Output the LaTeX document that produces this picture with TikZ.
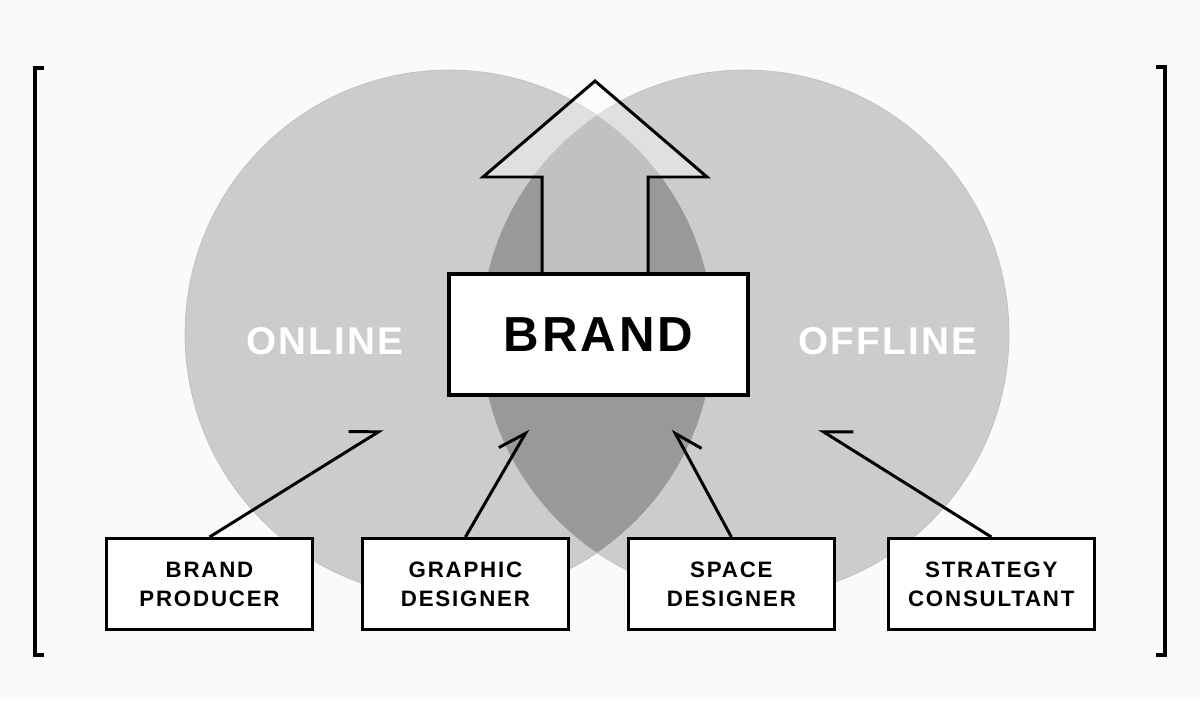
\documentclass[tikz,border=0pt]{standalone}
\usepackage{fontspec}
\setmainfont{Liberation Sans}
\newfontfamily\bigtrack[LetterSpace=6]{Liberation Sans}
\newfontfamily\smalltrack[LetterSpace=8]{Liberation Sans}
\usetikzlibrary{arrows.meta,positioning,calc}
\tikzset{
  venn/.style={fill=black!20, draw=black!25, line width=0.4pt},
  lens/.style={fill=black!40},
  field/.style={text=white, inner sep=0pt, font=\fontsize{22}{24}\selectfont\bigtrack\bfseries},
  brandbox/.style={draw, line width=2.3pt, fill=white, minimum width=5.98cm, minimum height=2.42cm, inner sep=0pt, font=\fontsize{28}{30}\selectfont\bigtrack\bfseries},
  role/.style={draw, line width=1.7pt, fill=white, minimum width=4.12cm, minimum height=1.82cm, inner sep=0pt, align=center, font=\fontsize{12.7}{16.5}\selectfont\smalltrack\bfseries},
  bigarr/.style={draw, line width=1.7pt, fill=white, fill opacity=0.4, line join=miter},
  arr/.style={line width=1.7pt, -{Straight Barb[harpoon, angle=64:0.6cm]}},
  arrsw/.style={line width=1.7pt, -{Straight Barb[harpoon, swap, angle=64:0.6cm]}},
  brack/.style={line width=2.2pt}}

\begin{document}
\begin{tikzpicture}[x=0.02cm, y=-0.02cm]
  \useasboundingbox[fill=black!2] (0,0) rectangle (1200,700);
  % online / offline circles
  \coordinate (on) at (449,334);
  \coordinate (off) at (745,334);
  \draw[venn] (on) circle[radius=5.28cm];
  \draw[venn] (off) circle[radius=5.28cm];
  \begin{scope}
    \clip (on) circle[radius=5.28cm];
    \fill[lens] (off) circle[radius=5.28cm];
  \end{scope}
  % big arrow
  \draw[bigarr] (542,276) -- (542,177) -- (483,177) -- (595,81) -- (707,177) -- (648,177) -- (648,276);
  \node[brandbox] (brand) at (598.5,334.5) {BRAND};
  \node[field] (online) at (325,341) {ONLINE};
  \node[field] (offline) at (888,341) {OFFLINE};
  % roles
  \node[role] (producer) at (209.5,584) {BRAND\\PRODUCER};
  \node[role, right=0.94cm of producer] (graphic) {GRAPHIC\\DESIGNER};
  \node[role, right=1.14cm of graphic] (space) {SPACE\\DESIGNER};
  \node[role, right=1.02cm of space] (strategy) {STRATEGY\\CONSULTANT};
  \coordinate (t1) at (383,429);
  \coordinate (t2) at (528,429);
  \coordinate (t3) at (673,429);
  \coordinate (t4) at (819,429);
  \draw[arr] (producer.north) -- (t1);
  \draw[arr] (graphic.north) -- (t2);
  \draw[arrsw] (space.north) -- (t3);
  \draw[arrsw] (strategy.north) -- (t4);
  % brackets
  \draw[brack] (44,68) -- (35,68) -- (35,655) -- (44,655);
  \draw[brack] (1156,67) -- (1165,67) -- (1165,655) -- (1156,655);
\end{tikzpicture}
\end{document}
